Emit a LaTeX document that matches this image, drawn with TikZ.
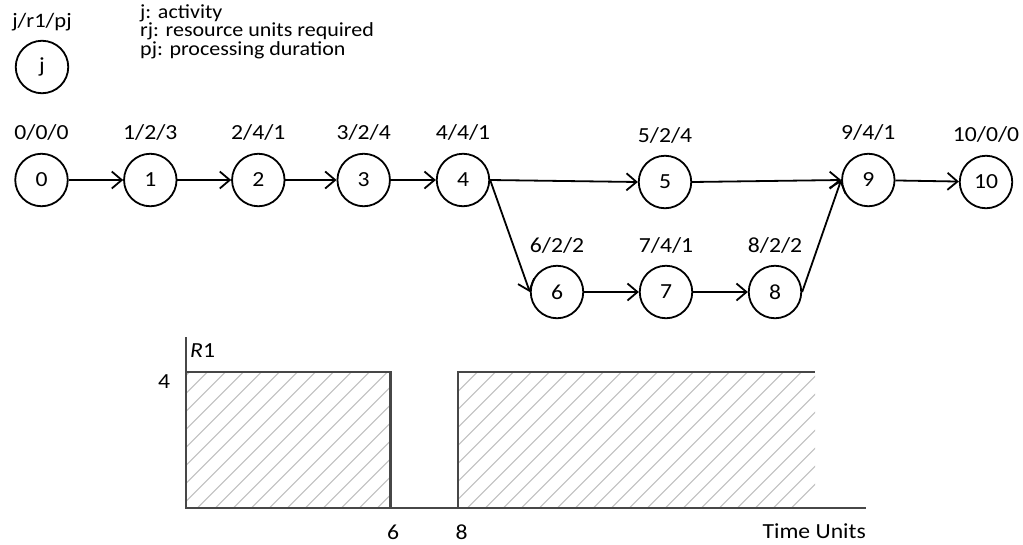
\documentclass[tikz,border=0pt]{standalone}
\usepackage{fontspec}
\setmainfont{Carlito}[FakeStretch=1.1]
\usetikzlibrary{arrows.meta}
\begin{document}
\begin{tikzpicture}[x=1pt,y=-1pt,
  font=\fontsize{21.5}{24}\selectfont,
  act/.style={circle,draw,line width=1.8pt,minimum size=52.5pt,inner sep=0pt},
  lab/.style={anchor=base,inner sep=0pt},
  txt/.style={inner sep=0pt},
  edge/.style={line width=1.8pt,-{Straight Barb[length=10pt,width=17pt,line width=1.8pt]}},
  axis/.style={draw=black!72,line width=2.2pt},
  hatch/.style={draw=black!25,line width=1pt}]
\useasboundingbox (0,0) rectangle (1023,544);

% legend
\node[act] (leg) at (42,67) {j};
\node[lab,font=\fontsize{20.5}{24}\selectfont] (legl) at (42,27) {j/r1/pj};
\node[txt,anchor=base west,align=left,font=\fontsize{20}{17}\selectfont] (desc) at (140,55)
  {j: activity\\rj: resource units required\\pj: processing duration};

% activities
\node[act] (n0) at (41.5,180) {0};
\node[act] (n1) at (150.3,180) {1};
\node[act] (n2) at (258.3,180) {2};
\node[act] (n3) at (363.7,180) {3};
\node[act] (n4) at (463,180) {4};
\node[act] (n5) at (665,182) {5};
\node[act] (n6) at (557,292) {6};
\node[act] (n7) at (666,292) {7};
\node[act] (n8) at (775,292) {8};
\node[act] (n9) at (868.3,180) {9};
\node[act] (n10) at (986,182) {10};

\node[lab] (l0) at (41.5,139.5) {0/0/0};
\node[lab] (l1) at (150.3,139.5) {1/2/3};
\node[lab] (l2) at (258.3,139.5) {2/4/1};
\node[lab] (l3) at (363.7,139.5) {3/2/4};
\node[lab] (l4) at (463,139.5) {4/4/1};
\node[lab] (l5) at (665,142.5) {5/2/4};
\node[lab] (l6) at (557,252) {6/2/2};
\node[lab] (l7) at (666,252) {7/4/1};
\node[lab] (l8) at (775,252) {8/2/2};
\node[lab] (l9) at (868.3,139.5) {9/4/1};
\node[lab] (l10) at (986,141.5) {10/0/0};

\draw[edge] (n0) -- (n1);
\draw[edge] (n1) -- (n2);
\draw[edge] (n2) -- (n3);
\draw[edge] (n3) -- (n4);
\draw[edge] (n4.east) -- (n5.west);
\draw[edge] (n4.east) -- (n6.west);
\draw[edge] (n6) -- (n7);
\draw[edge] (n7) -- (n8);
\draw[edge] (n5.east) -- (n9.west);
\draw[edge] (n8.east) -- (n9.west);
\draw[edge] (n9) -- (n10);

% resource profile
\begin{scope}
\clip (185.7,372) rectangle (390.5,507.7) (458.3,372) rectangle (815,507.7);
\foreach \k in {0,...,42} \draw[hatch] (35.7+\k*18,507.7) -- ++(150,-150);
\end{scope}
\draw[axis] (185.7,337) -- (185.7,507.7) -- (866,507.7);
\draw[axis] (185.7,372) -- (390.5,372) -- (390.5,507.7);
\draw[axis] (458.3,507.7) -- (458.3,372) -- (815,372);

\node[txt] (y4) at (164,381.7) {4};
\node[txt,anchor=west] (r1) at (190,351) {\textit{R}1};
\node[txt] (x6) at (393,532) {6};
\node[txt] (x8) at (461.7,532) {8};
\node[txt,anchor=east] (tu) at (866,531) {Time Units};
\end{tikzpicture}
\end{document}
